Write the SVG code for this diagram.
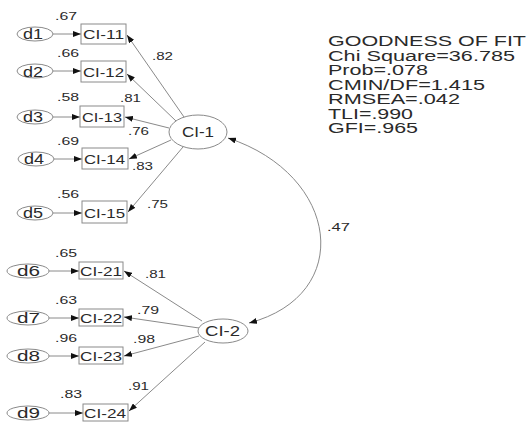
<svg xmlns="http://www.w3.org/2000/svg" width="530" height="423" viewBox="0 0 530 423">
<style>
text{font-family:"Liberation Sans",Arial,sans-serif;fill:#2a2a2a}
.n{font-size:11px}
.b{font-size:13px}
.d{font-size:14px}
.l{font-size:14px}
.f{font-size:14px}
.sh{fill:#fff;stroke:#8a8a8a;stroke-width:1}
.c{fill:none;stroke:#8a8a8a;stroke-width:1}
.a{marker-end:url(#ah)}
</style>
<defs>
<marker id="ah" viewBox="0 0 8 6" refX="8" refY="3" markerWidth="8" markerHeight="6" markerUnits="userSpaceOnUse" orient="auto-start-reverse">
<path d="M0,0 L8,3 L0,6 Z" fill="#111"/>
</marker>
</defs>
<rect width="530" height="423" fill="#fff"/>
<g id="connectors">
<line class="c a" x1="53" y1="34" x2="81" y2="34"/>
<line class="c a" x1="53" y1="71" x2="81" y2="71"/>
<line class="c a" x1="53" y1="117" x2="80" y2="117"/>
<line class="c a" x1="54" y1="159" x2="82" y2="159"/>
<line class="c a" x1="53" y1="213" x2="82" y2="213"/>
<line class="c a" x1="49" y1="271" x2="79" y2="271"/>
<line class="c a" x1="49" y1="318" x2="79" y2="318"/>
<line class="c a" x1="49" y1="356" x2="79" y2="356"/>
<line class="c a" x1="49" y1="413" x2="83" y2="413"/>
<line class="c a" x1="184" y1="117" x2="127" y2="35"/>
<line class="c a" x1="176" y1="121" x2="127" y2="74"/>
<line class="c a" x1="169" y1="128" x2="125" y2="117"/>
<line class="c a" x1="171" y1="140" x2="129" y2="159"/>
<line class="c a" x1="183" y1="147" x2="128" y2="212"/>
<line class="c a" x1="202" y1="321" x2="124" y2="271"/>
<line class="c a" x1="199" y1="328" x2="124" y2="317"/>
<line class="c a" x1="199" y1="336" x2="124" y2="356"/>
<line class="c a" x1="205" y1="342" x2="129" y2="411"/>
<path class="c" d="M228,138 C340,175 355,295 249,323" marker-start="url(#ah)" marker-end="url(#ah)"/>
</g>
<g id="labels">
<text class="n" x="55" y="20" textLength="22" lengthAdjust="spacingAndGlyphs">.67</text>
<text class="n" x="57" y="57" textLength="22" lengthAdjust="spacingAndGlyphs">.66</text>
<text class="n" x="57" y="101" textLength="22" lengthAdjust="spacingAndGlyphs">.58</text>
<text class="n" x="57" y="145" textLength="22" lengthAdjust="spacingAndGlyphs">.69</text>
<text class="n" x="57" y="198" textLength="22" lengthAdjust="spacingAndGlyphs">.56</text>
<text class="n" x="152" y="60" textLength="21" lengthAdjust="spacingAndGlyphs">.82</text>
<text class="n" x="120" y="102" textLength="21" lengthAdjust="spacingAndGlyphs">.81</text>
<text class="n" x="128" y="135" textLength="21" lengthAdjust="spacingAndGlyphs">.76</text>
<text class="n" x="132" y="170" textLength="21" lengthAdjust="spacingAndGlyphs">.83</text>
<text class="n" x="147" y="208" textLength="21" lengthAdjust="spacingAndGlyphs">.75</text>
<text class="n" x="55" y="257" textLength="22" lengthAdjust="spacingAndGlyphs">.65</text>
<text class="n" x="55" y="304" textLength="22" lengthAdjust="spacingAndGlyphs">.63</text>
<text class="n" x="55" y="342" textLength="22" lengthAdjust="spacingAndGlyphs">.96</text>
<text class="n" x="60" y="398" textLength="22" lengthAdjust="spacingAndGlyphs">.83</text>
<text class="n" x="145" y="278" textLength="21" lengthAdjust="spacingAndGlyphs">.81</text>
<text class="n" x="137" y="314" textLength="22" lengthAdjust="spacingAndGlyphs">.79</text>
<text class="n" x="133" y="343" textLength="22" lengthAdjust="spacingAndGlyphs">.98</text>
<text class="n" x="128" y="390" textLength="21" lengthAdjust="spacingAndGlyphs">.91</text>
<text class="n" x="327" y="231" textLength="23" lengthAdjust="spacingAndGlyphs">.47</text>
</g>
<g id="d1"><ellipse class="sh" cx="35" cy="34" rx="18" ry="7"/><text class="d" x="23" y="39" textLength="20" lengthAdjust="spacingAndGlyphs">d1</text></g>
<g id="d2"><ellipse class="sh" cx="35" cy="71" rx="18" ry="7"/><text class="d" x="23" y="77" textLength="20" lengthAdjust="spacingAndGlyphs">d2</text></g>
<g id="d3"><ellipse class="sh" cx="35" cy="117" rx="18" ry="7"/><text class="d" x="23" y="122" textLength="20" lengthAdjust="spacingAndGlyphs">d3</text></g>
<g id="d4"><ellipse class="sh" cx="36" cy="159" rx="18" ry="7"/><text class="d" x="24" y="164" textLength="20" lengthAdjust="spacingAndGlyphs">d4</text></g>
<g id="d5"><ellipse class="sh" cx="35" cy="213" rx="18" ry="7"/><text class="d" x="23" y="218" textLength="20" lengthAdjust="spacingAndGlyphs">d5</text></g>
<g id="d6"><ellipse class="sh" cx="28" cy="271" rx="21" ry="7"/><text class="d" x="17" y="276" textLength="23" lengthAdjust="spacingAndGlyphs">d6</text></g>
<g id="d7"><ellipse class="sh" cx="28" cy="318" rx="21" ry="7"/><text class="d" x="17" y="323" textLength="23" lengthAdjust="spacingAndGlyphs">d7</text></g>
<g id="d8"><ellipse class="sh" cx="28" cy="356" rx="21" ry="7"/><text class="d" x="17" y="361" textLength="23" lengthAdjust="spacingAndGlyphs">d8</text></g>
<g id="d9"><ellipse class="sh" cx="28" cy="413" rx="21" ry="7"/><text class="d" x="17" y="418" textLength="23" lengthAdjust="spacingAndGlyphs">d9</text></g>
<g id="CI-11"><rect class="sh" x="81" y="24" width="45" height="20"/><text class="b" x="83" y="39" textLength="41" lengthAdjust="spacingAndGlyphs">CI-11</text></g>
<g id="CI-12"><rect class="sh" x="81" y="61" width="45" height="21"/><text class="b" x="83" y="77" textLength="41" lengthAdjust="spacingAndGlyphs">CI-12</text></g>
<g id="CI-13"><rect class="sh" x="80" y="106" width="44" height="21"/><text class="b" x="82" y="122" textLength="40" lengthAdjust="spacingAndGlyphs">CI-13</text></g>
<g id="CI-14"><rect class="sh" x="82" y="148" width="46" height="21"/><text class="b" x="84" y="164" textLength="41" lengthAdjust="spacingAndGlyphs">CI-14</text></g>
<g id="CI-15"><rect class="sh" x="82" y="201" width="45" height="22"/><text class="b" x="84" y="218" textLength="41" lengthAdjust="spacingAndGlyphs">CI-15</text></g>
<g id="CI-21"><rect class="sh" x="79" y="262" width="44" height="17"/><text class="b" x="80" y="276" textLength="42" lengthAdjust="spacingAndGlyphs">CI-21</text></g>
<g id="CI-22"><rect class="sh" x="79" y="309" width="44" height="17"/><text class="b" x="80" y="323" textLength="42" lengthAdjust="spacingAndGlyphs">CI-22</text></g>
<g id="CI-23"><rect class="sh" x="79" y="347" width="44" height="17"/><text class="b" x="80" y="361" textLength="42" lengthAdjust="spacingAndGlyphs">CI-23</text></g>
<g id="CI-24"><rect class="sh" x="83" y="404" width="45" height="17"/><text class="b" x="84" y="418" textLength="42" lengthAdjust="spacingAndGlyphs">CI-24</text></g>
<g id="CI-1"><ellipse class="sh" cx="198" cy="132" rx="29" ry="17"/><text class="l" x="182" y="137" textLength="32" lengthAdjust="spacingAndGlyphs">CI-1</text></g>
<g id="CI-2"><ellipse class="sh" cx="223" cy="331" rx="25" ry="12"/><text class="l" x="205" y="336" textLength="35" lengthAdjust="spacingAndGlyphs">CI-2</text></g>
<g id="fit">
<text class="f" x="328" y="46" textLength="198" lengthAdjust="spacingAndGlyphs">GOODNESS OF FIT</text>
<text class="f" x="328" y="60.5" textLength="187" lengthAdjust="spacingAndGlyphs">Chi Square=36.785</text>
<text class="f" x="328" y="75" textLength="100" lengthAdjust="spacingAndGlyphs">Prob=.078</text>
<text class="f" x="328" y="89.5" textLength="157" lengthAdjust="spacingAndGlyphs">CMIN/DF=1.415</text>
<text class="f" x="328" y="104" textLength="132" lengthAdjust="spacingAndGlyphs">RMSEA=.042</text>
<text class="f" x="328" y="118.5" textLength="85" lengthAdjust="spacingAndGlyphs">TLI=.990</text>
<text class="f" x="328" y="133" textLength="90" lengthAdjust="spacingAndGlyphs">GFI=.965</text>
</g>
</svg>
